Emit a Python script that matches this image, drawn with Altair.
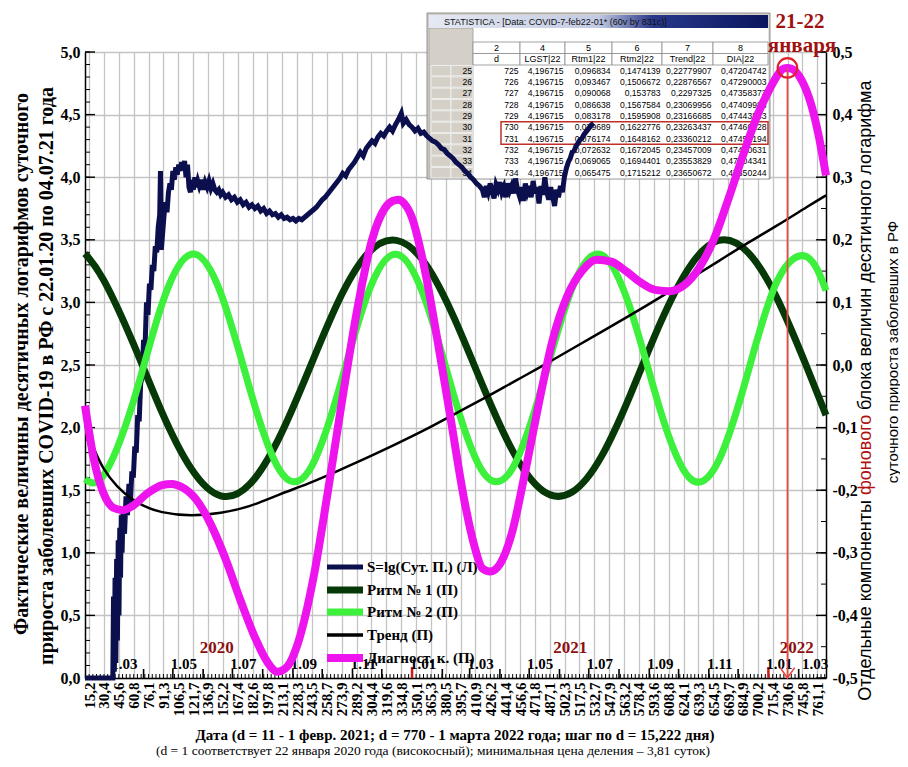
import altair as alt
import pandas as pd
import numpy as np

# ---------------- data ----------------
S_D = [11, 39.5, 40.2, 41, 41.8, 42.6, 43.4, 44.2, 45, 45.8, 46.6, 47.4, 48.2, 49, 50, 51.5, 53, 54.5, 56, 57.5,
       59, 60.5, 62, 63.5, 65, 66.5, 68, 69.5, 71, 72.5, 74, 75.5, 77, 78.5, 80, 81.5, 83, 84.5, 86, 87.5,
       88.3, 89.2, 90.5, 92, 93.5, 95, 96.5, 98, 99.5, 101, 102.5, 104, 105.5, 107, 108.5, 110, 111.5, 113, 114.5, 116,
       117.5, 119, 120.5, 122, 123.5, 125, 126.5, 128, 130, 132, 134, 136, 138, 140, 142, 144, 146, 148, 150, 152,
       155, 158, 161, 164, 167, 170, 173, 176, 179, 182, 185, 188, 191, 194, 197, 200, 203, 206, 209, 212,
       215, 218, 221, 224, 227, 230, 233, 236, 239, 242, 245, 248, 251, 254, 257, 260, 263, 266, 269, 272,
       275, 278, 281, 284, 287, 290, 293, 296, 299, 302, 305, 308, 311, 314, 317, 320, 323, 326, 329, 332,
       335, 337, 340, 343, 346, 349, 352, 355, 358, 361, 364, 367, 370, 373, 376, 379, 382, 385, 388, 391,
       394, 397, 400, 403, 406, 409, 412, 415, 418, 420, 422, 424, 426, 428, 430, 432, 434, 436, 438, 440,
       442, 444, 446, 448, 450, 452, 454, 456, 458, 460, 462, 464, 466, 468, 470, 472, 474, 476, 478, 480,
       482, 484, 486, 488, 490, 492, 494, 496, 498, 500, 502, 504, 506, 508, 510, 512, 514, 516, 518, 520,
       522, 524, 526, 528, 530, 532]
S_VAL = [0, 0, 0.65, 0.05, 0.8, 0.12, 0.95, 0.3, 1.1, 0.5, 1.2, 0.8, 1.3, 1.0, 1.35, 1.15, 1.45, 1.3, 1.55, 1.4,
         1.65, 1.6, 1.85, 1.8, 2.1, 2.05, 2.35, 2.4, 2.7, 2.65, 3.0, 2.9, 3.15, 3.1, 3.3, 3.25, 3.45, 3.4, 3.6, 3.7,
         4.05, 3.42, 3.55, 3.7, 3.8, 3.72, 3.88, 3.95, 3.9, 4.05, 3.98, 4.08, 4.02, 4.1, 4.05, 4.12, 4.06, 4.13, 4.0, 4.1,
         3.92, 3.88, 3.98, 3.9, 4.0, 3.92, 3.97, 3.93, 3.98, 3.9, 3.96, 3.92, 3.97, 3.91, 3.95, 3.9, 3.88, 3.9, 3.86, 3.88,
         3.84, 3.86, 3.82, 3.84, 3.8, 3.82, 3.78, 3.8, 3.76, 3.78, 3.75, 3.77, 3.73, 3.75, 3.71, 3.73, 3.7, 3.71, 3.68, 3.7,
         3.67, 3.68, 3.66, 3.67, 3.65, 3.67, 3.66, 3.68, 3.7, 3.72, 3.74, 3.76, 3.79, 3.82, 3.84, 3.87, 3.9, 3.93, 3.96, 3.99,
         4.03, 4.01, 4.06, 4.09, 4.12, 4.16, 4.2, 4.17, 4.23, 4.26, 4.29, 4.27, 4.32, 4.35, 4.33, 4.37, 4.4, 4.37, 4.42, 4.46,
         4.51, 4.43, 4.46, 4.42, 4.4, 4.37, 4.39, 4.35, 4.36, 4.33, 4.31, 4.29, 4.28, 4.26, 4.23, 4.22, 4.19, 4.17, 4.15, 4.12,
         4.1, 4.08, 4.05, 4.03, 4.0, 3.98, 3.95, 3.93, 3.9, 3.84, 3.93, 3.88, 3.95, 3.89, 3.83, 3.94, 3.9, 3.96, 3.88, 3.92,
         3.84, 3.95, 3.89, 3.93, 3.87, 3.99, 3.9, 3.85, 3.92, 3.81, 3.95, 3.88, 3.93, 3.84, 3.97, 3.87, 3.92, 3.79, 3.93, 3.86,
         4.0, 3.88, 3.82, 3.92, 3.85, 3.77, 3.9, 3.84, 3.93, 3.88, 4.0, 4.07, 4.12, 4.15, 4.2, 4.21, 4.25, 4.27, 4.3, 4.31,
         4.34, 4.36, 4.38, 4.4, 4.42, 4.43]

GRID_D = [11, 30, 60, 90, 120, 150, 180, 210, 240, 270, 300, 330, 360, 390, 420, 450, 480, 510, 540, 570,
          600, 630, 660, 690, 720, 750, 770]
RTM1 = [0.178, 0.136, 0.036, -0.076, -0.166, -0.209, -0.190, -0.116, -0.009, 0.100, 0.177, 0.199, 0.161, 0.072,
        -0.039, -0.140, -0.201, -0.203, -0.146, -0.046, 0.066, 0.156, 0.199, 0.180, 0.106, -0.002, -0.080]
RTM2 = [-0.182, -0.176, -0.061, 0.098, 0.177, 0.115, -0.039, -0.167, -0.170, -0.045, 0.111, 0.177, 0.102, -0.055,
        -0.174, -0.162, -0.029, 0.123, 0.176, 0.088, -0.071, -0.180, -0.153, -0.012, 0.134, 0.173, 0.119]
TREND = [-0.095, -0.165, -0.215, -0.235, -0.240, -0.236, -0.225, -0.207, -0.189, -0.169, -0.148, -0.126, -0.103,
         -0.078, -0.053, -0.027, -0.001, 0.026, 0.053, 0.080, 0.108, 0.137, 0.166, 0.195, 0.223, 0.252, 0.271]
DIA_D = [11, 20, 30, 40, 50, 60, 75, 90, 100, 110, 125, 140, 155, 170, 185, 198, 208, 218, 230, 245, 260, 275,
         290, 305, 318, 326, 332, 338, 346, 358, 372, 386, 400, 410, 418, 426, 436, 448, 462, 476, 490, 505, 520,
         535, 550, 565, 580, 595, 610, 625, 640, 655, 670, 685, 700, 712, 720, 725, 730, 735, 745, 755, 762, 770]
DIA = [-0.065, -0.15, -0.205, -0.228, -0.232, -0.225, -0.205, -0.192, -0.19, -0.195, -0.215, -0.255, -0.31, -0.375,
       -0.435, -0.475, -0.49, -0.482, -0.44, -0.34, -0.2, -0.05, 0.09, 0.2, 0.25, 0.262, 0.264, 0.258, 0.235, 0.16,
       0.04, -0.09, -0.22, -0.29, -0.325, -0.33, -0.318, -0.27, -0.17, -0.06, 0.04, 0.11, 0.15, 0.168, 0.165, 0.15,
       0.132, 0.12, 0.118, 0.128, 0.155, 0.2, 0.265, 0.335, 0.4, 0.44, 0.462, 0.472, 0.4746, 0.473, 0.455, 0.415, 0.37,
       0.303]

LEGEND_LABELS = ["S=lg(Сут. П.) (Л)", "Ритм № 1 (П)", "Ритм № 2 (П)", "Тренд (П)", "Диагност. к. (П)"]

XTICK_LABELS = ["15,2", "30,4", "45,6", "60,8", "76,1", "91,3", "106,5", "121,7", "136,9", "152,2", "167,4",
                "182,6", "197,8", "213,1", "228,3", "243,5", "258,7", "273,9", "289,2", "304,4", "319,6", "334,8",
                "350,1", "365,3", "380,5", "395,7", "410,9", "426,2", "441,4", "456,6", "471,8", "487,1", "502,3",
                "517,5", "532,7", "547,9", "563,2", "578,4", "593,6", "608,8", "624,1", "639,3", "654,5", "669,7",
                "684,9", "700,2", "715,4", "730,6", "745,8", "761,1"]
YL_TICKS = [0, 0.5, 1, 1.5, 2, 2.5, 3, 3.5, 4, 4.5, 5]
YR_TICKS = [-0.5, -0.4, -0.3, -0.2, -0.1, 0, 0.1, 0.2, 0.3, 0.4, 0.5]

MONTH_D = [40, 71, 101, 132, 162, 193, 224, 254, 285, 315, 346, 377, 405, 436, 466, 497, 527, 558, 589, 619,
           650, 680, 711, 742]
JAN_D = [346, 711]
MONTH_LABEL_D = [40, 101, 162, 224, 285, 346, 405, 466, 527, 589, 650, 711]
MONTH_LABELS = ["1.03", "1.05", "1.07", "1.09", "1.11", "1.01", "1.03", "1.05", "1.07", "1.09", "1.11", "1.01"]
LAST_MONTH_D = [770]
LAST_MONTH_LABEL = ["1.03"]
YEAR_D = [146, 508, 740]
YEAR_LABELS = ["2020", "2021", "2022"]
MARK_D = 730.5
MARK_V = 0.4746

TABLE_TITLE = "STATISTICA - [Data: COVID-7-feb22-01* (60v by 831c)]"
TABLE_COLNUMS = ["2", "4", "5", "6", "7", "8"]
TABLE_COLNAMES = ["d", "LGST|22", "Rtm1|22", "Rtm2|22", "Trend|22", "DIA|22"]
TABLE_ROWS = ["25", "26", "27", "28", "29", "30", "31", "32", "33", "34"]
TABLE_D = ["725", "726", "727", "728", "729", "730", "731", "732", "733", "734"]
TABLE_LGST = ["4,196715"] * 10
TABLE_RTM1 = ["0,096834", "0,093467", "0,090068", "0,086638", "0,083178", "0,079689", "0,076174", "0,072632",
              "0,069065", "0,065475"]
TABLE_RTM2 = ["0,1474139", "0,1506672", "0,153783", "0,1567584", "0,1595908", "0,1622776", "0,1648162",
              "0,1672045", "0,1694401", "0,1715212"]
TABLE_TREND = ["0,22779907", "0,22876567", "0,2297325", "0,23069956", "0,23166685", "0,23263437", "0,23360212",
               "0,23457009", "0,23553829", "0,23650672"]
TABLE_DIA = ["0,47204742", "0,47290003", "0,47358373", "0,47409985", "0,47443543", "0,47460128", "0,47458194",
             "0,47440631", "0,47404341", "0,47350244"]

# ---------------- layout / style ----------------
L, T = 85, 52          # page position of plot area
W, H = 741, 626
SERIF = "Liberation Serif"
SANS = "Liberation Sans"
COLORS = ["#0c0f4e", "#073807", "#3cf03c", "#000000", "#ee14ee"]
WIDTHS = [5, 7, 7, 2.5, 8]
GRIDC = "#c4c4c4"

XS = alt.Scale(domain=[11, 770], nice=False, zero=False)
YLS = alt.Scale(domain=[0, 5], nice=False, zero=False)
YRS = alt.Scale(domain=[-0.5, 0.5], nice=False, zero=False)
PX = alt.Scale(domain=[0, W], nice=False, zero=False)
PY = alt.Scale(domain=[0, H], nice=False, zero=False, reverse=True)
COLS = alt.Scale(domain=LEGEND_LABELS, range=COLORS)

xtick_vals = [float(s.replace(",", ".")) for s in XTICK_LABELS]
comma = "replace(replace(format(datum.value, '.1f'), '.', ','), '\u2212', '-')"

xnone = alt.X("d:Q", scale=XS, axis=None)

# -------- S line (carries the bottom and left axes) --------
s_df = pd.DataFrame({"d": S_D, "v": S_VAL, "series": LEGEND_LABELS[0]})
s_line = alt.Chart(s_df).mark_line(strokeJoin="miter", strokeWidth=WIDTHS[0]).encode(
    x=alt.X("d:Q", scale=XS, axis=alt.Axis(
        values=xtick_vals, labelExpr=comma, labelAngle=270, labelAlign="right", labelBaseline="middle",
        labelFont=SERIF, labelFontWeight="bold", labelFontSize=15, labelColor="black", labelPadding=4,
        labelOverlap=False, labelFlush=False, labelBound=False, ticks=False, domainColor="black",
        domainWidth=1.5, grid=True, gridColor=GRIDC, gridWidth=1.3, title=None)),
    y=alt.Y("v:Q", scale=YLS, axis=alt.Axis(
        values=YL_TICKS, labelExpr=comma, labelFont=SERIF, labelFontWeight="bold", labelFontSize=16,
        labelColor="black", labelPadding=5, ticks=False, domainColor="black", domainWidth=1.5,
        grid=True, gridColor=GRIDC, gridWidth=1.3, title=None, labelFlush=False)),
    color=alt.Color("series:N", scale=COLS, legend=None),
)

# -------- right series --------
def right_layer(dvals, vals, idx, interp, axis=None):
    df = pd.DataFrame({"d": dvals, "v": vals, "series": LEGEND_LABELS[idx]})
    return alt.Chart(df).mark_line(interpolate=interp, strokeWidth=WIDTHS[idx]).encode(
        x=xnone,
        y=alt.Y("v:Q", scale=YRS, axis=axis),
        color=alt.Color("series:N", scale=COLS, legend=None),
    )

raxis = alt.Axis(orient="right", values=YR_TICKS, labelExpr=comma, labelFont=SERIF, labelFontWeight="bold",
                 labelFontSize=16, labelColor="black", labelPadding=6, ticks=False, domainColor="black",
                 domainWidth=1.5, grid=False, title=None, labelFlush=False, labelAlign="left")
rtm1 = right_layer(GRID_D, RTM1, 1, "natural", raxis)
rtm2 = right_layer(GRID_D, RTM2, 2, "natural")
trend = right_layer(GRID_D, TREND, 3, "natural")
dia = right_layer(DIA_D, DIA, 4, "monotone")

# -------- inward ticks --------
minor_d = [v for v in np.arange(0, 771, 15.222 / 4) if v >= 11]
xminor = alt.Chart(pd.DataFrame({"d": minor_d})).mark_rule(color="black", strokeWidth=1).encode(
    x=xnone, y=alt.value(H), y2=alt.value(H - 4))
xmonth = alt.Chart(pd.DataFrame({"d": [m for m in MONTH_D if m not in JAN_D]})).mark_rule(
    color="black", strokeWidth=1.6).encode(x=xnone, y=alt.value(H), y2=alt.value(H - 9))
xjan = alt.Chart(pd.DataFrame({"d": JAN_D})).mark_rule(color="#d01818", strokeWidth=2.5).encode(
    x=xnone, y=alt.value(H), y2=alt.value(H - 11))
yl_minor = alt.Chart(pd.DataFrame({"v": [i / 10 for i in range(51)]})).mark_rule(color="black").encode(
    y=alt.Y("v:Q", scale=YLS, axis=None), x=alt.value(0), x2=alt.value(5))
yl_major = alt.Chart(pd.DataFrame({"v": YL_TICKS})).mark_rule(color="black", strokeWidth=1.4).encode(
    y=alt.Y("v:Q", scale=YLS, axis=None), x=alt.value(0), x2=alt.value(10))
yr_minor = alt.Chart(pd.DataFrame({"v": [i / 20 - 0.5 for i in range(21)]})).mark_rule(color="black").encode(
    y=alt.Y("v:Q", scale=YRS, axis=None), x=alt.value(W), x2=alt.value(W - 5))
yr_major = alt.Chart(pd.DataFrame({"v": YR_TICKS})).mark_rule(color="black", strokeWidth=1.4).encode(
    y=alt.Y("v:Q", scale=YRS, axis=None), x=alt.value(W), x2=alt.value(W - 10))

# -------- month / year labels --------
mlab = alt.Chart(pd.DataFrame({"d": MONTH_LABEL_D, "t": MONTH_LABELS})).mark_text(
    font=SERIF, fontWeight="bold", fontSize=15, dx=11, baseline="middle", color="black").encode(
    x=xnone, y=alt.value(H - 14), text="t:N")
mlab_last = alt.Chart(pd.DataFrame({"d": LAST_MONTH_D, "t": LAST_MONTH_LABEL})).mark_text(
    font=SERIF, fontWeight="bold", fontSize=15, dx=-11, baseline="middle", color="black").encode(
    x=xnone, y=alt.value(H - 14), text="t:N")
ylab = alt.Chart(pd.DataFrame({"d": YEAR_D, "t": YEAR_LABELS})).mark_text(
    font=SERIF, fontWeight="bold", fontSize=17, baseline="middle", color="#8c1010").encode(
    x=xnone, y=alt.value(596), text="t:N")

# -------- red marker --------
mk = pd.DataFrame({"d": [MARK_D], "v": [MARK_V], "b": [-0.5]})
red_rule = alt.Chart(mk).mark_rule(color="#e8473f", strokeWidth=1.6).encode(
    x=xnone, y=alt.Y("v:Q", scale=YRS, axis=None), y2="b:Q")
red_circle = alt.Chart(mk).mark_point(shape="circle", size=380, filled=False, color="#e0202a",
                                      strokeWidth=2.2, opacity=1).encode(
    x=xnone, y=alt.Y("v:Q", scale=YRS, axis=None))
red_arrow = alt.Chart(mk).mark_point(shape="M-0.9,-1.3L0,0L0.9,-1.3", size=256, filled=False,
                                     color="#e8473f", strokeWidth=1.6, opacity=1).encode(
    x=xnone, y=alt.Y("b:Q", scale=YRS, axis=None))

# -------- legend (manual) --------
LEG_Y = [567, 590, 612, 635, 658]
leg_layers = []
for i, lab in enumerate(LEGEND_LABELS):
    ldf = pd.DataFrame({"series": [lab]})
    leg_layers.append(alt.Chart(ldf).mark_rule(strokeWidth=WIDTHS[i] if i != 3 else 3.5).encode(
        y=alt.value(LEG_Y[i] - T), x=alt.value(327 - L), x2=alt.value(363 - L),
        color=alt.Color("series:N", scale=COLS, legend=None)))
    leg_layers.append(alt.Chart(ldf).mark_text(font=SERIF, fontWeight="bold", fontSize=15, align="left",
                                               baseline="middle", color="black").encode(
        y=alt.value(LEG_Y[i] - T), x=alt.value(367 - L), text="series:N"))

# -------- inset table (screenshot) --------
col_edges = [473, 520, 565, 612, 662, 713, 768]
row_y0 = 65
row_h = 11.33
rects = [
    (427, 770, 13, 179, "#d4d0c8", "#7a7a7a"),
    (429, 768, 28, 178, "#ffffff", "#ffffff"),
    (429, 473, 28, 178, "#d4d0c8", "#9a9a9a"),
]
for i in range(6):
    rects.append((col_edges[i], col_edges[i + 1], 42, 53.5, "#ffffff", "#8a8a8a"))
    rects.append((col_edges[i], col_edges[i + 1], 53.5, 65, "#ffffff", "#8a8a8a"))
for r in range(len(TABLE_ROWS)):
    y0 = row_y0 + r * row_h
    rects.append((431, 451, y0 + 0.5, y0 + row_h - 0.5, "#d4d0c8", "#f4f4f4"))
    rects.append((451, 473, y0 + 0.5, y0 + row_h - 0.5, "#d4d0c8", "#f4f4f4"))
rect_df = pd.DataFrame(rects, columns=["x0", "x1", "y0", "y1", "fill", "stroke"])
for c in ["x0", "x1"]:
    rect_df[c] = rect_df[c] - L
for c in ["y0", "y1"]:
    rect_df[c] = rect_df[c] - T
tbl_rects = alt.Chart(rect_df).mark_rect(strokeWidth=0.8).encode(
    x=alt.X("x0:Q", scale=PX, axis=None), x2="x1:Q",
    y=alt.Y("y0:Q", scale=PY, axis=None), y2="y1:Q",
    color=alt.Color("fill:N", scale=None), stroke=alt.Stroke("stroke:N", scale=None))

bar_df = pd.DataFrame({"x0": [429 - L], "x1": [768 - L], "y0": [15 - T], "y1": [28 - T]})
tbl_bar = alt.Chart(bar_df).mark_rect(color=alt.Gradient(
    gradient="linear", x1=0, x2=1, y1=0, y2=0,
    stops=[alt.GradientStop(offset=0, color="#e6e9f2"), alt.GradientStop(offset=0.5, color="#c2cbe4"),
           alt.GradientStop(offset=0.66, color="#28388a"), alt.GradientStop(offset=1, color="#0a165e")])).encode(
    x=alt.X("x0:Q", scale=PX, axis=None), x2="x1:Q",
    y=alt.Y("y0:Q", scale=PY, axis=None), y2="y1:Q")
title_df = pd.DataFrame({"x": [444 - L], "y": [21.5 - T], "t": [TABLE_TITLE]})
tbl_title = alt.Chart(title_df).mark_text(font=SANS, fontSize=9, align="left", baseline="middle",
                                          color="#101010").encode(
    x=alt.X("x:Q", scale=PX, axis=None), y=alt.Y("y:Q", scale=PY, axis=None), text="t:N")

hdr = []
for i in range(6):
    cx = (col_edges[i] + col_edges[i + 1]) / 2 - L
    hdr.append((cx, 47.8 - T, TABLE_COLNUMS[i]))
    hdr.append((cx, 59.3 - T, TABLE_COLNAMES[i]))
hdr_df = pd.DataFrame(hdr, columns=["x", "y", "t"])
tbl_hdr = alt.Chart(hdr_df).mark_text(font=SANS, fontSize=9, align="center", baseline="middle",
                                      color="black").encode(
    x=alt.X("x:Q", scale=PX, axis=None), y=alt.Y("y:Q", scale=PY, axis=None), text="t:N")

cells = []
cols = [TABLE_D, TABLE_LGST, TABLE_RTM1, TABLE_RTM2, TABLE_TREND, TABLE_DIA]
for r in range(len(TABLE_ROWS)):
    cy = row_y0 + r * row_h + row_h / 2 - T
    cells.append((472 - L, cy, TABLE_ROWS[r]))
    for c in range(6):
        cells.append((col_edges[c + 1] - 1.5 - L, cy, cols[c][r]))
cell_df = pd.DataFrame(cells, columns=["x", "y", "t"])
tbl_cells = alt.Chart(cell_df).mark_text(font=SANS, fontSize=8.6, align="right", baseline="middle",
                                         color="black").encode(
    x=alt.X("x:Q", scale=PX, axis=None), y=alt.Y("y:Q", scale=PY, axis=None), text="t:N")
box_df = pd.DataFrame({"x0": [501 - L], "x1": [768 - L], "y0": [row_y0 + 5 * row_h - T],
                       "y1": [row_y0 + 7 * row_h - T]})
tbl_box = alt.Chart(box_df).mark_rect(fill=None, stroke="#c0302a", strokeWidth=1.5).encode(
    x=alt.X("x0:Q", scale=PX, axis=None), x2="x1:Q",
    y=alt.Y("y0:Q", scale=PY, axis=None), y2="y1:Q")

# -------- titles / annotations --------
def txt(t, x, y, size, weight="normal", font=SERIF, angle=0, color="black", align="center"):
    return alt.Chart(pd.DataFrame({"t": [t]})).mark_text(
        font=font, fontSize=size, fontWeight=weight, angle=angle, color=color, align=align,
        baseline="middle").encode(text="t:N", x=alt.value(x - L), y=alt.value(y - T))

titles = [
    txt("Фактические величины десятичных логарифмов суточного", 22, 364, 20, "bold", angle=270),
    txt("прироста заболевших COVID-19 в РФ с 22.01.20 по 04.07.21 года", 47, 376, 20, "bold", angle=270),
    txt("Отдельные компоненты", 866, 500, 18, font=SANS, angle=270, align="right"),
    txt("фонового", 866, 495, 18, font=SANS, angle=270, align="left", color="#b01010"),
    txt("блока величин десятичного логарифма", 866, 410, 18, font=SANS, angle=270, align="left"),
    txt("суточного прироста заболевших в РФ", 893, 352, 15, font=SANS, angle=270),
    txt("Дата (d = 11 - 1 февр. 2021; d = 770 - 1 марта 2022 года; шаг по d = 15,222 дня)", 455, 735, 15,
        "bold"),
    txt("(d = 1 соответствует 22 января 2020 года (високосный); минимальная цена деления \u2013 3,81 суток)",
        433, 751, 13.5),
    txt("21-22", 800, 22, 21, "bold", color="#a01212"),
    txt("января", 802, 46, 21, "bold", color="#a01212"),
]

ordered = [tbl_rects, tbl_bar, tbl_title, tbl_hdr, tbl_cells, tbl_box,
           xminor, xmonth, xjan, yl_minor, yl_major, yr_minor, yr_major,
           mlab, mlab_last, ylab] + leg_layers + [
           s_line, rtm1, rtm2, trend, dia, red_rule, red_circle, red_arrow] + titles

chart = alt.layer(*ordered).resolve_scale(
    x="independent", y="independent", color="shared"
).properties(
    width=W, height=H,
    autosize=alt.AutoSizeParams(type="none"),
    padding={"left": L - 8, "top": T - 8, "right": 74, "bottom": 81},
    background="white",
).configure_view(stroke="black", strokeWidth=1, strokeDash=[1, 2])

chart.save("out.html", embed_options={"renderer": "svg", "actions": False})
